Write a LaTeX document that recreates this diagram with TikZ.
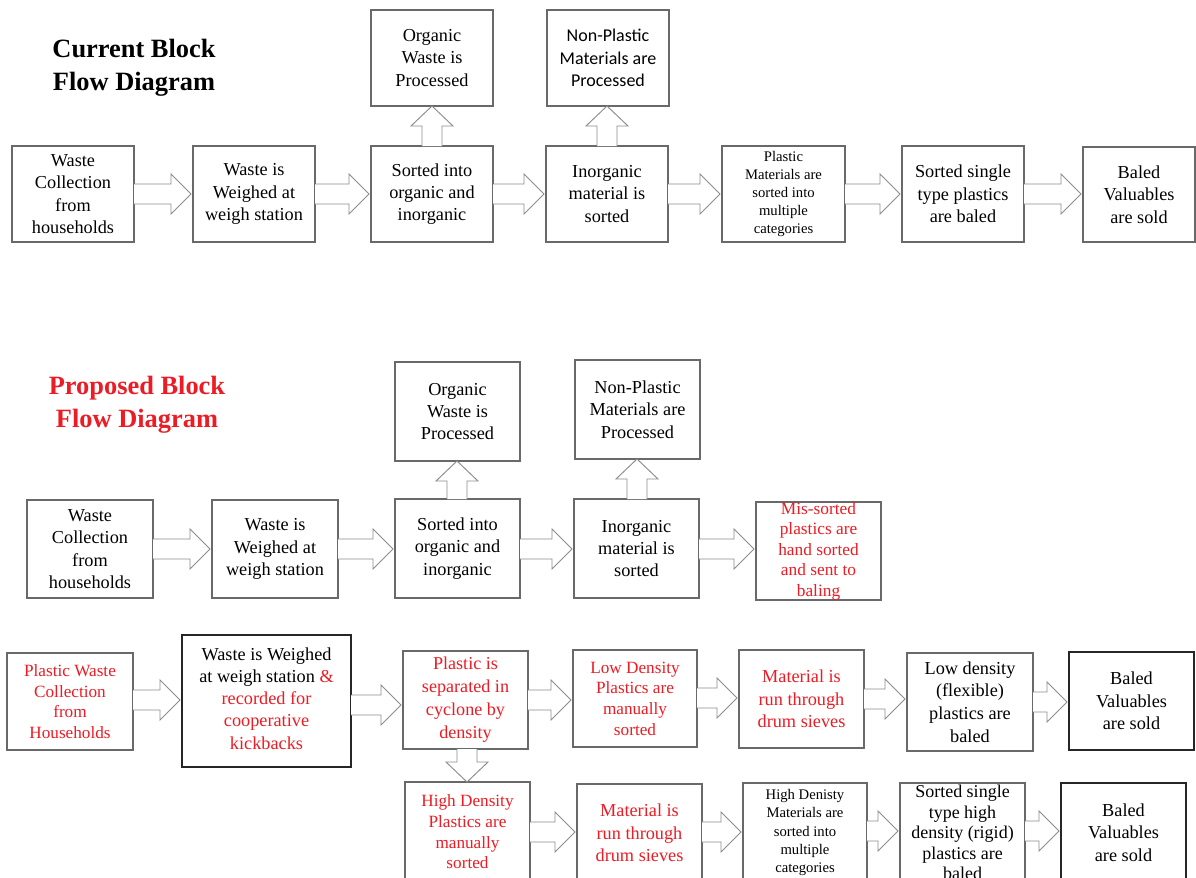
\documentclass[tikz,border=0pt]{standalone}
\usepackage{fontspec}
\setmainfont{Liberation Serif}
\newfontfamily\calib{Carlito}
\usetikzlibrary{calc}
\definecolor{rd}{RGB}{237,28,36}
\definecolor{bxc}{RGB}{105,105,105}
\definecolor{arc}{RGB}{140,140,140}
\tikzset{
  box/.style={draw=bxc, line width=0.8pt, fill=white, inner sep=0pt, outer sep=0pt},
  dbox/.style={draw=black!85},
  txt/.style={align=center, inner sep=0pt, font=\fontsize{13.7}{16.7}\selectfont},
  sml/.style={font=\fontsize{11}{13.6}\selectfont},
  mid/.style={font=\fontsize{12.9}{15.5}\selectfont},
  barrow/.style={draw=arc, line width=0.7pt, fill=white, line join=miter},
  ttl/.style={align=center, inner sep=0pt, font=\fontsize{19.8}{24.75}\selectfont\bfseries},
}
% box: [box opts]{name}{x1}{y1}{x2}{y2}{text opts}{text}
\newcommand{\bx}[8][]{%
  \node[box,#1,minimum width={(#5-#3)*0.75pt},minimum height={(#6-#4)*0.75pt}] (#2) at ({(#3+#5)/2},{(#4+#6)/2}) {};
  \node[txt,#7] (#2t) at (#2.center) {#8};}
% horizontal block arrow: from, to, y(px)
\newcommand{\harr}[3]{%
  \draw[barrow] let \p1=(#1.east), \p2=(#2.west), \p3=(0,#3) in
  (\x1,\y3+7.5pt) -- (\x2-16.5pt,\y3+7.5pt) -- (\x2-16.5pt,\y3+15pt) -- (\x2-1.5pt,\y3)
  -- (\x2-16.5pt,\y3-15pt) -- (\x2-16.5pt,\y3-7.5pt) -- (\x1,\y3-7.5pt);}
% upward block arrow: from (lower), to (upper), x(px)
\newcommand{\uarr}[3]{%
  \draw[barrow] let \p1=(#1.north), \p2=(#2.south), \p3=(#3,0) in
  (\x3-7.5pt,\y1) -- (\x3-7.5pt,\y2-15pt) -- (\x3-15.75pt,\y2-15pt) -- (\x3,\y2)
  -- (\x3+15.75pt,\y2-15pt) -- (\x3+7.5pt,\y2-15pt) -- (\x3+7.5pt,\y1);}
% downward block arrow
\newcommand{\darr}[3]{%
  \draw[barrow] let \p1=(#1.south), \p2=(#2.north), \p3=(#3,0) in
  (\x3-7.5pt,\y1) -- (\x3-7.5pt,\y2+15pt) -- (\x3-15.75pt,\y2+15pt) -- (\x3,\y2)
  -- (\x3+15.75pt,\y2+15pt) -- (\x3+7.5pt,\y2+15pt) -- (\x3+7.5pt,\y1);}

\begin{document}
\begin{tikzpicture}[x=0.75pt,y=-0.75pt]
\useasboundingbox (0,0) rectangle (1196,878);
\clip (0,0) rectangle (1196,878);
\fill[white] (0,0) rectangle (1196,878);

% ---------- Current ----------
\node[ttl] (title1) at (134,68) {Current Block\\Flow Diagram};

\bx{c1}{12}{146}{134}{242}{}{Waste\\Collection\\from\\households}
\bx{c2}{193}{146}{315}{242}{}{Waste is\\Weighed at\\weigh station}
\bx{c3}{371}{146}{493}{242}{}{Sorted into\\organic and\\inorganic}
\bx{c4}{546}{146}{668}{242}{}{Inorganic\\material is\\sorted}
\bx{c5}{722}{146}{845}{242}{sml}{Plastic\\Materials are\\sorted into\\multiple\\categories}
\bx{c6}{902}{146}{1024}{242}{}{Sorted single\\type plastics\\are baled}
\bx{c7}{1083}{147}{1195}{242}{}{Baled\\Valuables\\are sold}
\bx{ct1}{371}{10}{493}{106}{}{Organic\\Waste is\\Processed}
\bx{ct2}{547}{10}{669}{106}{font=\calib\fontsize{13.5}{16.9}\selectfont}{Non-Plastic\\Materials are\\Processed}

\harr{c1}{c2}{194}
\harr{c2}{c3}{194}
\harr{c3}{c4}{194}
\harr{c4}{c5}{194}
\harr{c5}{c6}{194}
\harr{c6}{c7}{194}
\uarr{c3}{ct1}{432}
\uarr{c4}{ct2}{607}

% ---------- Proposed ----------
\node[ttl,text=rd] (title2) at (137,405) {Proposed Block\\Flow Diagram};

\bx{q1}{27}{500}{153}{598}{}{Waste\\Collection\\from\\households}
\bx{q2}{212}{500}{338}{598}{}{Waste is\\Weighed at\\weigh station}
\bx{q3}{395}{499}{520}{598}{}{Sorted into\\organic and\\inorganic}
\bx{q4}{574}{499}{699}{598}{}{Inorganic\\material is\\sorted}
\bx{q5}{756}{502}{881}{600}{text=rd,font=\fontsize{13}{15.4}\selectfont}{Mis-sorted\\plastics are\\hand sorted\\and sent to\\baling}
\bx{qt1}{395}{362}{520}{461}{}{Organic\\Waste is\\Processed}
\bx{qt2}{575}{360}{700}{459}{}{Non-Plastic\\Materials are\\Processed}

\harr{q1}{q2}{549}
\harr{q2}{q3}{549}
\harr{q3}{q4}{549}
\harr{q4}{q5}{549}
\uarr{q3}{qt1}{457}
\uarr{q4}{qt2}{637}

% row 2
\bx{r1}{7}{653}{133}{750}{mid,text=rd}{Plastic Waste\\Collection\\from\\Households}
\bx[dbox]{r2}{182}{635}{351}{767}{yshift=2pt}{Waste is Weighed\\at weigh station \textcolor{rd}{\&}\\\textcolor{rd}{recorded for}\\\textcolor{rd}{cooperative}\\\textcolor{rd}{kickbacks}}
\bx{r3}{403}{651}{528}{749}{text=rd,font=\fontsize{13.6}{17.3}\selectfont}{Plastic is\\separated in\\cyclone by\\density}
\bx{r4}{573}{650}{697}{747}{mid,text=rd}{Low Density\\Plastics are\\manually\\sorted}
\bx{r5}{739}{650}{864}{748}{text=rd}{Material is\\run through\\drum sieves}
\bx{r6}{907}{653}{1033}{751}{font=\fontsize{13.7}{17}\selectfont}{Low density\\(flexible)\\plastics are\\baled}
\bx[dbox]{r7}{1069}{652}{1194}{750}{}{Baled\\Valuables\\are sold}

\harr{r1}{r2}{700}
\harr{r2}{r3}{705}
\harr{r3}{r4}{700}
\harr{r4}{r5}{698}
\harr{r5}{r6}{699}
\harr{r6}{r7}{702}

% row 3
\bx{s1}{405}{782}{530}{882}{mid,text=rd}{High Density\\Plastics are\\manually\\sorted}
\bx{s2}{577}{784}{702}{882}{text=rd}{Material is\\run through\\drum sieves}
\bx{s3}{743}{783}{867}{882}{sml}{High Denisty\\Materials are\\sorted into\\multiple\\categories}
\bx{s4}{900}{783}{1025}{882}{font=\fontsize{13.5}{15.4}\selectfont}{Sorted single\\type high\\density (rigid)\\plastics are\\baled}
\bx[dbox]{s5}{1061}{783}{1186}{882}{}{Baled\\Valuables\\are sold}

\darr{r3}{s1}{467}
\harr{s1}{s2}{832}
\harr{s2}{s3}{832}
\harr{s3}{s4}{831}
\harr{s4}{s5}{831}
\end{tikzpicture}
\end{document}
